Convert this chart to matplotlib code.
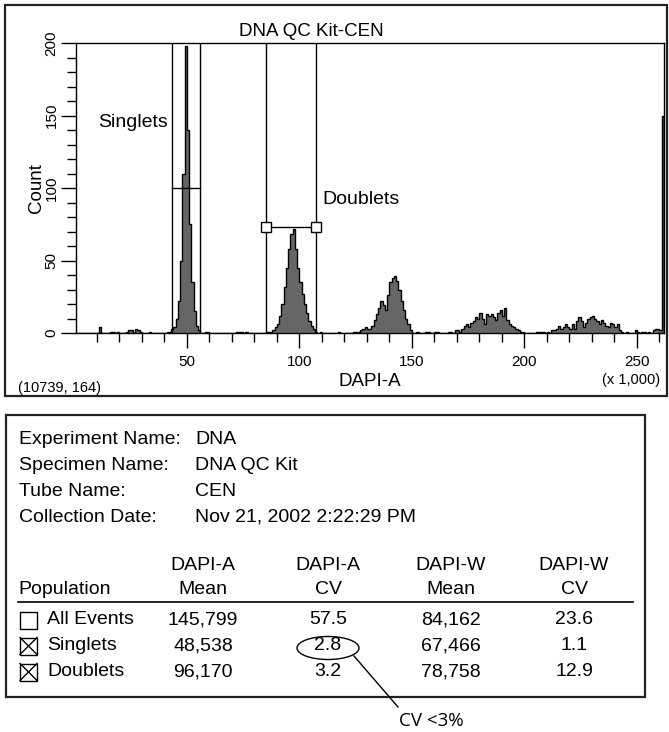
import numpy as np
import matplotlib
matplotlib.use("Agg")
import matplotlib.pyplot as plt
from matplotlib.patches import Rectangle, Ellipse

plt.rcParams['font.family'] = ['Liberation Sans', 'DejaVu Sans']

W, H = 669, 732

# DAPI-A histogram: event counts per 1,000-unit channel, channel 0 .. 261
dapi_counts = [
    0, 0, 0, 0, 0, 0, 0, 0, 0, 0,          # 0
    0, 4, 0, 0, 0, 0, 1, 1, 0, 1,          # 10
    0, 0, 0, 1, 2, 2, 0, 3, 2, 1,          # 20
    0, 0, 0, 1, 0, 0, 0, 0, 0, 0,          # 30
    0, 1, 1, 3, 4, 10, 22, 50, 110, 198,   # 40
    140, 75, 35, 15, 5, 2, 0, 0, 1, 1,     # 50
    0, 0, 0, 0, 0, 0, 0, 0, 0, 0,          # 60
    0, 0, 1, 1, 1, 0, 1, 0, 0, 0,          # 70
    0, 0, 0, 0, 0, 1, 1, 1, 2, 4,          # 80
    6, 12, 20, 32, 45, 58, 68, 72, 58, 45, # 90
    35, 27, 20, 14, 8, 5, 3, 1, 0, 1,      # 100
    0, 0, 0, 0, 0, 0, 0, 1, 0, 0,          # 110
    0, 0, 0, 0, 1, 1, 1, 2, 3, 4,          # 120
    3, 3, 5, 9, 13, 17, 22, 19, 16, 26,    # 130
    35, 38, 39, 36, 30, 22, 16, 10, 6, 2,  # 140
    0, 0, 1, 0, 0, 0, 1, 1, 0, 0,          # 150
    1, 1, 0, 0, 0, 0, 1, 1, 0, 2,          # 160
    2, 1, 3, 5, 6, 4, 7, 8, 11, 10,        # 170
    14, 10, 6, 13, 12, 13, 11, 9, 14, 16,  # 180
    12, 17, 9, 6, 5, 4, 3, 2, 1, 1,        # 190
    0, 0, 0, 0, 0, 1, 1, 1, 1, 0,          # 200
    1, 0, 2, 2, 3, 5, 3, 4, 6, 4,          # 210
    3, 6, 3, 8, 11, 8, 4, 7, 10, 11,       # 220
    12, 10, 8, 6, 9, 7, 5, 4, 7, 6,        # 230
    4, 6, 2, 1, 0, 1, 0, 0, 0, 2,          # 240
    1, 0, 1, 1, 0, 1, 0, 2, 3, 3,          # 250
    2, 150,                                # 260 (off-scale events)
]
channel_edges = np.arange(len(dapi_counts) + 1)

# interval gates (DAPI-A x 1,000) and the level at which each is drawn
singlets_gate = [43.3, 56.0]
singlets_level = 100
doublets_gate = [85.1, 107.2]
doublets_level = 73.3

x_major = [50, 100, 150, 200, 250]
y_major = [0, 50, 100, 150, 200]

info_labels = ["Experiment Name:", "Specimen Name:", "Tube Name:", "Collection Date:"]
info_values = ["DNA", "DNA QC Kit", "CEN", "Nov 21, 2002 2:22:29 PM"]

stat_header_top = ["DAPI-A", "DAPI-A", "DAPI-W", "DAPI-W"]
stat_header_bottom = ["Mean", "CV", "Mean", "CV"]
populations = ["All Events", "Singlets", "Doublets"]
gated = [False, True, True]
dapi_a_mean = ["145,799", "48,538", "96,170"]
dapi_a_cv = ["57.5", "2.8", "3.2"]
dapi_w_mean = ["84,162", "67,466", "78,758"]
dapi_w_cv = ["23.6", "1.1", "12.9"]

fig = plt.figure(figsize=(W / 100, H / 100), dpi=100)
fig.patch.set_facecolor('white')


def fx(px):
    return px / W


def fy(py):
    return 1 - py / H


# ---- histogram panel ----
ax = fig.add_axes([fx(76), fy(333), fx(664) - fx(76), fy(43) - fy(333)])
ax.set_facecolor('none')
ax.stairs(dapi_counts, channel_edges, fill=True, color='#666666', lw=0, zorder=2)
ax.stairs(dapi_counts, channel_edges, color='black', lw=1.0, zorder=3)
ax.set_xlim(0.7, 262)
ax.set_ylim(0, 200)

for xg in singlets_gate + doublets_gate:
    ax.axvline(xg, color='black', lw=1.0, zorder=4)
ax.plot(singlets_gate, [singlets_level] * 2, color='black', lw=1.0, zorder=4)
ax.plot(doublets_gate, [doublets_level] * 2, color='black', lw=1.0, zorder=5,
        marker='s', ms=6.5, mfc='white', mec='black', mew=1.0)

ax.text(41.5, 145, "Singlets", ha='right', va='center', fontsize=14)
ax.text(110, 92, "Doublets", ha='left', va='center', fontsize=14)

ax.set_xticks(x_major)
ax.set_xticks(np.arange(10, 262, 10), minor=True)
ax.set_yticks(y_major)
ax.set_yticks(np.arange(10, 200, 10), minor=True)
ax.tick_params(which='major', direction='out', length=10.5, width=1.0,
               labelsize=11, color='black')
ax.tick_params(which='minor', direction='out', length=6.5, width=1.0, color='black')
ax.tick_params(axis='x', pad=5)
ax.tick_params(axis='y', pad=2)
for lab in ax.get_yticklabels():
    lab.set_rotation(90)
    lab.set_va('center')
for sp in ax.spines.values():
    sp.set_linewidth(1.0)
    sp.set_color('black')

# ---- frame, labels and summary table (pixel coordinates) ----
ov = fig.add_axes([0, 0, 1, 1])
ov.set_xlim(0, W)
ov.set_ylim(H, 0)
ov.axis('off')
ov.patch.set_alpha(0)

ov.add_patch(Rectangle((5, 5), 662, 391, fill=False, lw=1.6, ec='#222222'))
ov.add_patch(Rectangle((6, 415), 639, 282, fill=False, lw=1.6, ec='#222222'))

ov.text(311, 31, "DNA QC Kit-CEN", ha='center', va='center', fontsize=13.5)
ov.text(36, 188, "Count", ha='center', va='center', rotation=90, fontsize=13.5)
ov.text(370, 382, "DAPI-A", ha='center', va='center', fontsize=13.5)
ov.text(631, 380, "(x 1,000)", ha='center', va='center', fontsize=10.5)
ov.text(60, 388, "(10739, 164)", ha='center', va='center', fontsize=10.5)

info_y = [439, 465, 491, 517]
for lab, val, yy in zip(info_labels, info_values, info_y):
    ov.text(19, yy, lab, ha='left', va='center', fontsize=14)
    ov.text(195, yy, val, ha='left', va='center', fontsize=14)

col_x = [203, 328, 451, 574]
for cx, top, bot in zip(col_x, stat_header_top, stat_header_bottom):
    ov.text(cx, 565, top, ha='center', va='center', fontsize=14)
    ov.text(cx, 590, bot, ha='center', va='center', fontsize=14)
ov.text(18, 590, "Population", ha='left', va='center', fontsize=14)
ov.plot([18, 633], [602, 602], color='black', lw=1.2)

row_y = [620, 646, 672]
columns = [dapi_a_mean, dapi_a_cv, dapi_w_mean, dapi_w_cv]
for i, (pop, yy) in enumerate(zip(populations, row_y)):
    ov.add_patch(Rectangle((20, yy - 8.5), 17, 17, fill=False, lw=1.0, ec='black'))
    if gated[i]:
        ov.plot([20, 37], [yy - 8.5, yy + 8.5], color='black', lw=1.0)
        ov.plot([20, 37], [yy + 8.5, yy - 8.5], color='black', lw=1.0)
    ov.text(47, yy, pop, ha='left', va='center', fontsize=14)
    for cx, col in zip(col_x, columns):
        ov.text(cx, yy, col[i], ha='center', va='center', fontsize=14)

# call-out on the Singlets DAPI-A CV
ex, ey = col_x[1], row_y[1] + 2
ov.add_patch(Ellipse((ex, ey), 62, 23, fill=False, lw=1.0, ec='black'))
ov.plot([ex + 26, 398], [ey + 8, 707], color='black', lw=1.0)
ov.text(399, 721, "CV <3%", ha='left', va='center', fontsize=13.5,
        family=['Open Sans', 'DejaVu Sans'])

fig.savefig('out.png', dpi=100)
